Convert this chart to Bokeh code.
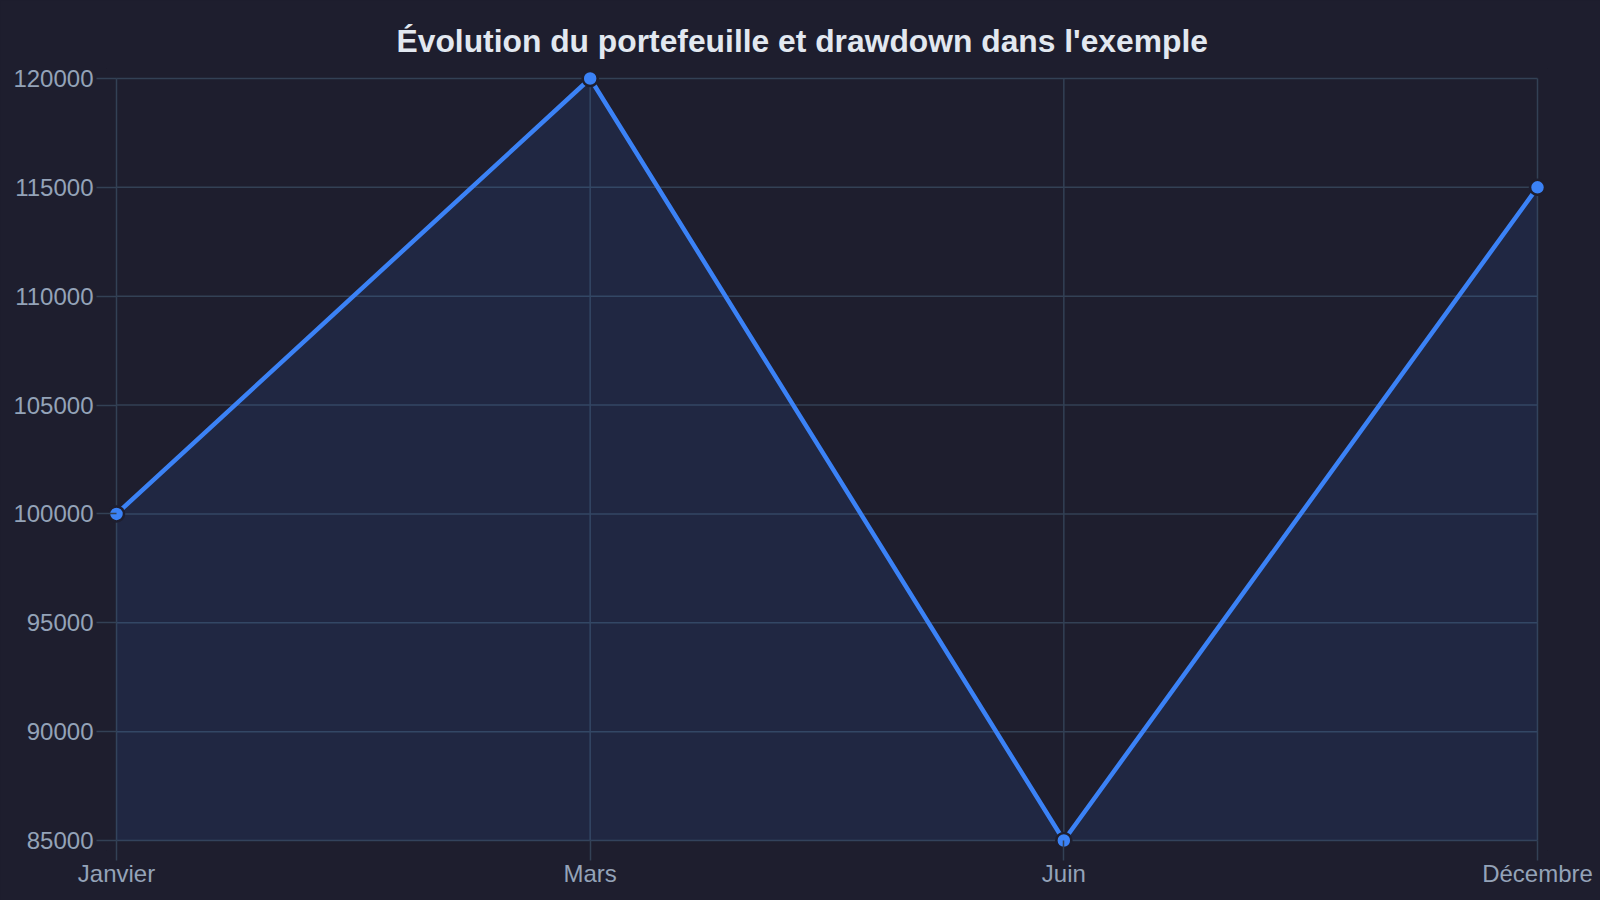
from bokeh.plotting import figure
from bokeh.models import Range1d, FixedTicker, ColumnDataSource
from bokeh.embed import file_html
from bokeh.resources import INLINE

months = ["Janvier", "Mars", "Juin", "Décembre"]
values = [100000, 120000, 85000, 115000]
y_ticks = [85000, 90000, 95000, 100000, 105000, 110000, 115000, 120000]
title_text = "Évolution du portefeuille et drawdown dans l'exemple"

BG = "#1e1e2e"
GRID = "#334155"
LINE = "#3b82f6"
LABEL = "#94a3b8"

W, H = 1600, 900
BL, BR, BT, BB = 106, 53, 68, 50
PAD = 10  # pixels of room around the data area so markers are not clipped

xs = list(range(len(months)))
x0, x1 = xs[0], xs[-1]
y0, y1 = y_ticks[0], y_ticks[-1]
xpad = (x1 - x0) * PAD / (W - BL - BR - 2 * PAD)
ypad = (y1 - y0) * PAD / (H - BT - BB - 2 * PAD)

src = ColumnDataSource(dict(x=xs, y=values, base=[y0] * len(xs)))

p = figure(width=W, height=H, output_backend="svg", toolbar_location=None,
           x_range=Range1d(x0 - xpad, x1 + xpad), y_range=Range1d(y0 - ypad, y1 + ypad),
           background_fill_color=BG, border_fill_color=BG, outline_line_color=None,
           min_border_left=BL, min_border_right=BR, min_border_top=BT, min_border_bottom=BB)
p.styles = {"background-color": BG}

p.title.text = title_text
p.title.align = "left"
p.title.offset = 290
p.title.standoff = 20
p.title.text_font = "Liberation Sans"
p.title.text_font_size = "31.8px"
p.title.text_font_style = "bold"
p.title.text_color = "#e2e8f0"

# grid lines limited to the data area
p.segment(x0=[x0] * len(y_ticks), x1=[x1] * len(y_ticks), y0=y_ticks, y1=y_ticks,
          line_color=GRID, line_width=1.5)
p.segment(x0=xs, x1=xs, y0=[y0] * len(xs), y1=[y1] * len(xs),
          line_color=GRID, line_width=1.5)

p.varea(x="x", y1="base", y2="y", source=src, fill_color=LINE, fill_alpha=0.1)
p.line(x="x", y="y", source=src, line_color=LINE, line_width=4.5)
p.scatter(x="x", y="y", source=src, size=15, fill_color=LINE, line_color=BG, line_width=2.5)

p.xaxis.ticker = FixedTicker(ticks=xs)
p.xaxis.bounds = (x0, x1)
p.xaxis.major_label_overrides = {i: m for i, m in enumerate(months)}
p.yaxis.ticker = FixedTicker(ticks=y_ticks)
p.yaxis.bounds = (y0, y1)
p.yaxis.formatter.use_scientific = False

for ax in (p.xaxis, p.yaxis):
    ax.axis_line_color = None
    ax.major_tick_line_color = GRID
    ax.major_tick_line_width = 1.5
    ax.major_tick_out = PAD
    ax.major_tick_in = PAD
    ax.minor_tick_line_color = None
    ax.major_label_text_color = LABEL
    ax.major_label_text_font = "Liberation Sans"
    ax.major_label_text_font_size = "24px"
p.xaxis.major_label_standoff = -1
p.yaxis.major_label_standoff = 3

p.grid.visible = False

open("out.html", "w").write(file_html(p, INLINE))
